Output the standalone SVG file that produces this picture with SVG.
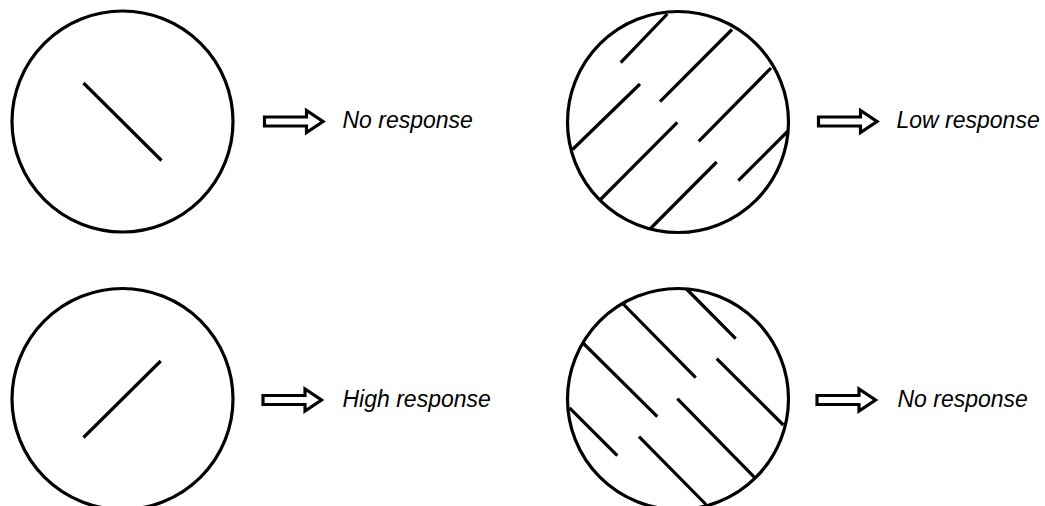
<svg xmlns="http://www.w3.org/2000/svg" width="1045" height="506" viewBox="0 0 1045 506">
<style>
.c{fill:none;stroke:#000;stroke-width:3.2}
.l{stroke:#000;stroke-width:3.2;stroke-linecap:butt}
.a{fill:#fff;stroke:#000;stroke-width:3.2;stroke-linejoin:miter}
.t{font-family:"Liberation Sans",Arial,sans-serif;font-style:italic;font-size:23px;fill:#000}
</style>
<defs>
<path id="arrow" class="a" d="M0,-4.5 H42 V-11 L58.5,0 L42,11 V4.5 H0 Z"/>
</defs>
<rect width="1045" height="506" fill="#fff"/>
<g id="node-tl">
<circle class="c" cx="122.5" cy="121.5" r="110.5"/>
<line class="l" x1="83.5" y1="83" x2="161.5" y2="160.5"/>
</g>
<g id="node-tr">
<circle class="c" cx="678" cy="122" r="110.5"/>
<line class="l" x1="667.3" y1="14" x2="620.7" y2="62.7"/>
<line class="l" x1="732" y1="29.5" x2="660" y2="101.7"/>
<line class="l" x1="640" y1="84" x2="572.5" y2="149.5"/>
<line class="l" x1="771" y1="68" x2="698.7" y2="141.3"/>
<line class="l" x1="677.3" y1="122.3" x2="600" y2="200"/>
<line class="l" x1="788" y1="131" x2="738.3" y2="180.7"/>
<line class="l" x1="716.7" y1="162" x2="650" y2="229"/>
</g>
<g id="node-bl">
<circle class="c" cx="122.5" cy="399" r="110.5"/>
<line class="l" x1="83.5" y1="437.5" x2="160.7" y2="361"/>
</g>
<g id="node-br">
<circle class="c" cx="678" cy="399" r="110.5"/>
<line class="l" x1="686.5" y1="289" x2="735.7" y2="338.7"/>
<line class="l" x1="622.7" y1="303.5" x2="695.7" y2="377.7"/>
<line class="l" x1="716.7" y1="358.7" x2="783.3" y2="425"/>
<line class="l" x1="583.5" y1="343.5" x2="657.3" y2="416.7"/>
<line class="l" x1="677.3" y1="398.7" x2="754.5" y2="477.3"/>
<line class="l" x1="569.5" y1="407.8" x2="617.3" y2="455.7"/>
<line class="l" x1="639" y1="436.7" x2="706" y2="504.5"/>
</g>
<g id="connectors">
<use href="#arrow" x="264.5" y="121.5"/>
<use href="#arrow" x="818.5" y="121.5"/>
<use href="#arrow" x="263" y="400"/>
<use href="#arrow" x="817" y="400"/>
</g>
<g id="labels">
<text class="t" x="342.5" y="127.5">No response</text>
<text class="t" x="896.5" y="127.5">Low response</text>
<text class="t" x="342.5" y="406.5">High response</text>
<text class="t" x="897.5" y="406.5">No response</text>
</g>
</svg>
